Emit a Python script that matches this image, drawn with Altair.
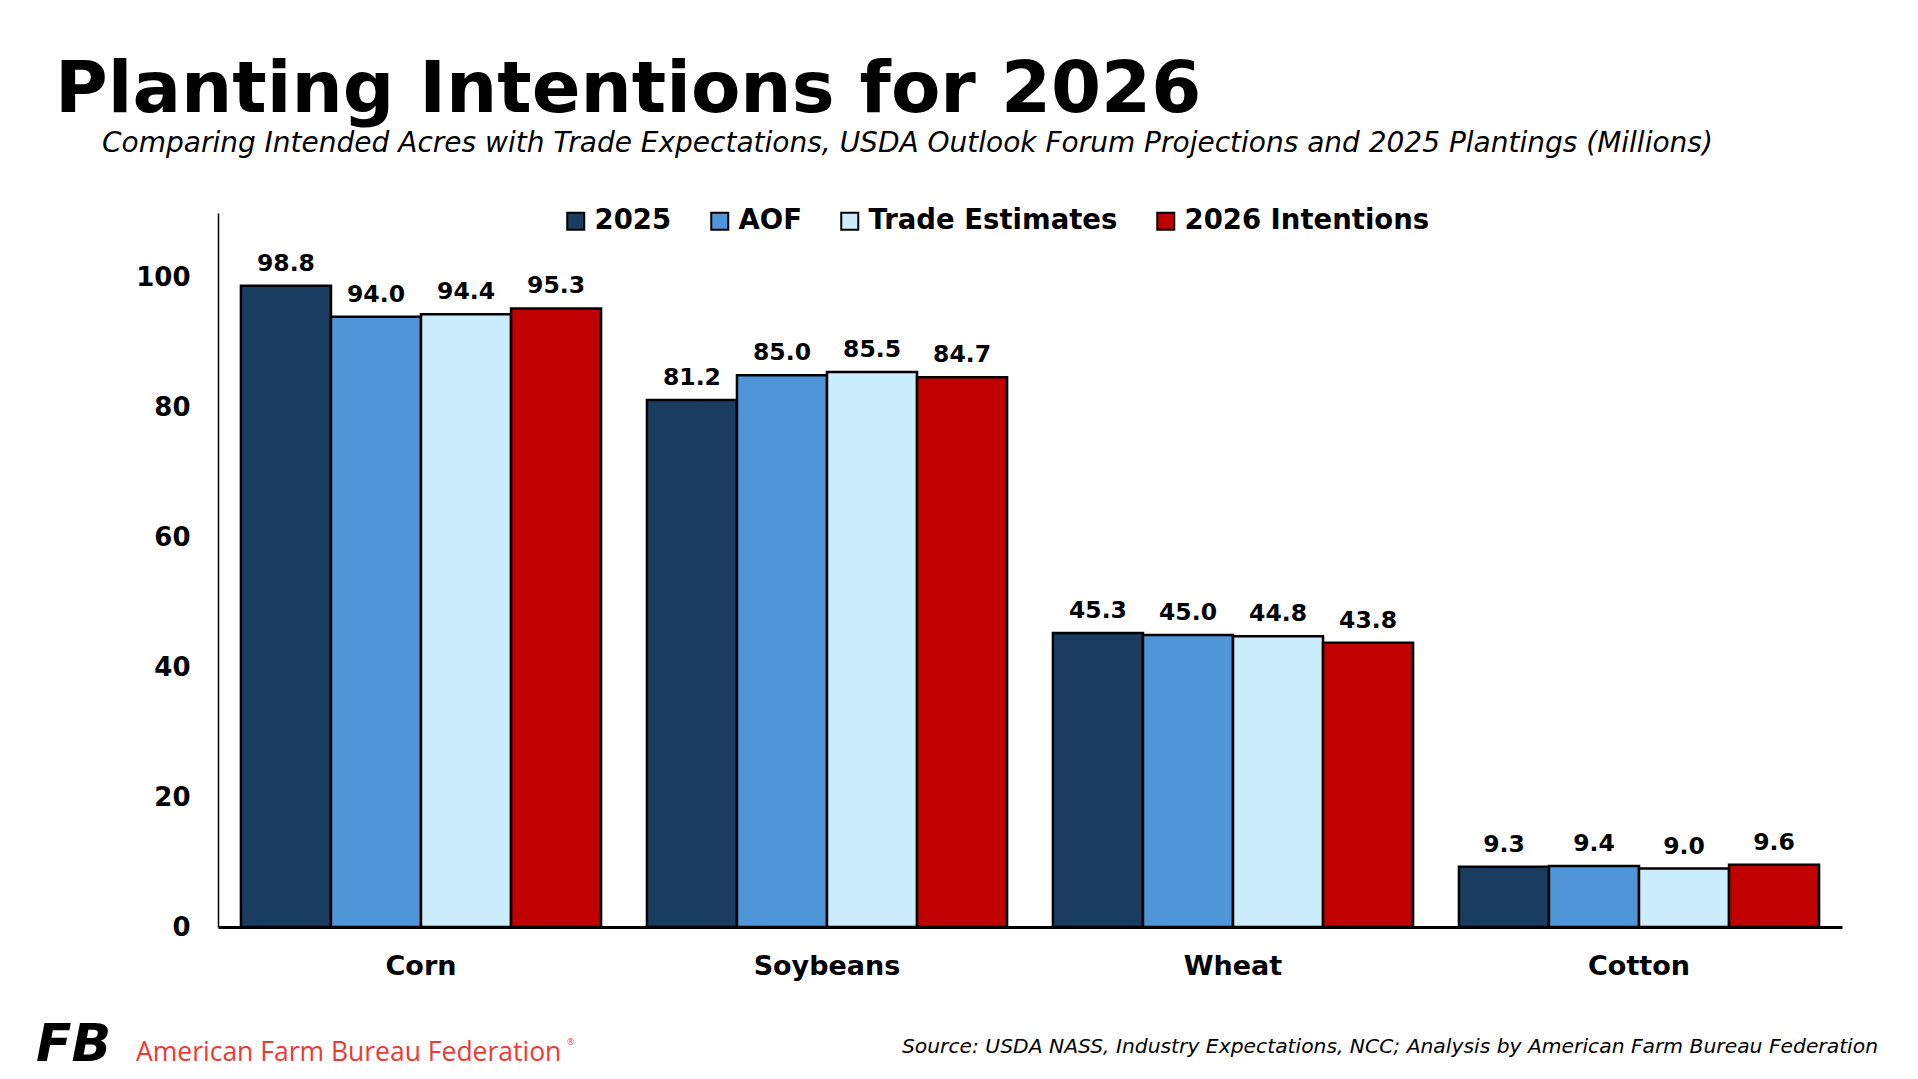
import altair as alt
import pandas as pd

crops = ["Corn", "Soybeans", "Wheat", "Cotton"]
series = ["2025", "AOF", "Trade Estimates", "2026 Intentions"]
colors = ["#1A3C61", "#4F96D8", "#CCEDFC", "#C00000"]

v_2025 = [98.8, 81.2, 45.3, 9.3]
v_aof = [94.0, 85.0, 45.0, 9.4]
v_trade = [94.4, 85.5, 44.8, 9.0]
v_2026 = [95.3, 84.7, 43.8, 9.6]

y_ticks = [0, 20, 40, 60, 80, 100]

title_text = "Planting Intentions for 2026"
subtitle_text = ("Comparing Intended Acres with Trade Expectations, USDA Outlook Forum "
                 "Projections and 2025 Plantings (Millions)")
source_text = ("Source: USDA NASS, Industry Expectations, NCC; Analysis by American "
               "Farm Bureau Federation")
org_text = "American Farm Bureau Federation"

rows = []
for s, vals in zip(series, [v_2025, v_aof, v_trade, v_2026]):
    for c, v in zip(crops, vals):
        rows.append({"crop": c, "series": s, "value": v})
df = pd.DataFrame(rows)

FONT = "DejaVu Sans"

x_enc = alt.X("crop:N", sort=crops,
              scale=alt.Scale(paddingInner=0.113, paddingOuter=0.0565),
              axis=alt.Axis(title=None, labelAngle=0, labelFont=FONT,
                            labelFontSize=27, labelFontWeight="bold",
                            labelColor="black", labelPadding=26, ticks=False,
                            domainColor="black", domainWidth=3))
xo_enc = alt.XOffset("series:N", sort=series, scale=alt.Scale(paddingInner=0, paddingOuter=0))
y_enc = alt.Y("value:Q", scale=alt.Scale(domain=[0, 110], nice=False),
              axis=alt.Axis(title=None, values=y_ticks, grid=False, ticks=False,
                            labelFont=FONT, labelFontSize=26, labelFontWeight="bold",
                            labelColor="black", labelPadding=28,
                            domainColor="black", domainWidth=1.5))

bars = alt.Chart(df).mark_bar(stroke="black", strokeWidth=2.5).encode(
    x=x_enc,
    xOffset=xo_enc,
    y=y_enc,
    color=alt.Color("series:N", sort=series,
                    scale=alt.Scale(domain=series, range=colors),
                    legend=alt.Legend(title=None, orient="none", direction="horizontal",
                                      legendX=344, legendY=-6,
                                      labelFont=FONT, labelFontSize=27.5,
                                      labelFontWeight="bold", labelColor="black",
                                      labelLimit=0,
                                      symbolType="square", symbolSize=289,
                                      symbolStrokeColor="black", symbolStrokeWidth=2,
                                      labelOffset=5, columnPadding=34)),
)

labels = alt.Chart(df).mark_text(font=FONT, fontSize=23.5, fontWeight="bold",
                                 color="black", baseline="alphabetic", dy=-15).encode(
    x=alt.X("crop:N", sort=crops),
    xOffset=alt.XOffset("series:N", sort=series),
    y="value:Q",
    text=alt.Text("value:Q", format=".1f"),
)

def txt(t, x, y, **kw):
    return alt.Chart(pd.DataFrame({"t": [t]})).mark_text(**kw).encode(
        text="t:N", x=alt.value(x), y=alt.value(y))

title = txt(title_text, -163, -101, font=FONT, fontSize=72, fontWeight="bold",
            color="black", align="left", baseline="alphabetic")
subtitle = txt(subtitle_text, -116, -61, font=FONT, fontSize=28, fontStyle="italic",
               color="black", align="left", baseline="alphabetic")
source = txt(source_text, 1660, 840, font=FONT, fontSize=20.3, fontStyle="italic",
             color="black", align="right", baseline="alphabetic")
org = txt(org_text, -82, 848, font="Open Sans", fontSize=26.5, color="#EE3A33",
          align="left", baseline="alphabetic")
reg = txt("®", 349, 832, font="Open Sans", fontSize=9, color="#EE3A33",
          align="left", baseline="alphabetic")
logo = txt("FB", -182, 848, font=FONT, fontSize=52, fontWeight="bold",
           fontStyle="italic", color="black", align="left", baseline="alphabetic")

chart = alt.layer(bars, labels, title, subtitle, source, org, reg, logo).properties(
    width=1624, height=714,
    background="white",
    autosize=alt.AutoSizeParams(type="none"),
    padding={"left": 210, "top": 205, "right": 68, "bottom": 152},
).configure_view(strokeWidth=0)

chart.save("out.html", embed_options={"renderer": "svg", "actions": False})
